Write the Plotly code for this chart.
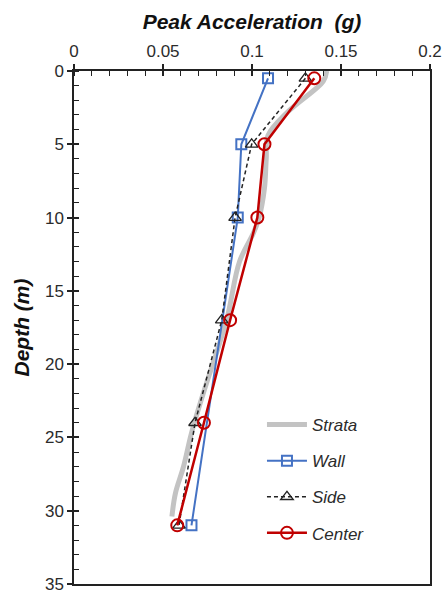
import plotly.graph_objects as go

# Data
strata_depth = [0, 0.7, 2.8, 4.4, 6, 8, 10, 11, 13, 17, 22, 24.7, 27, 28.8, 30.4]
strata_acc = [0.142, 0.140, 0.120, 0.109, 0.108, 0.107, 0.104, 0.101, 0.093, 0.0857, 0.0726, 0.066, 0.0615, 0.057, 0.055]

wall_depth = [0.5, 5, 10, 31]
wall_acc = [0.109, 0.094, 0.092, 0.066]

side_depth = [0.5, 5, 10, 17, 24, 31]
side_acc = [0.130, 0.0998, 0.0905, 0.083, 0.068, 0.059]

center_depth = [0.5, 5, 10, 17, 24, 31]
center_acc = [0.135, 0.107, 0.103, 0.0877, 0.073, 0.058]

x_ticks = [0, 0.05, 0.1, 0.15, 0.2]
x_labels = ["0", "0.05", "0.1", "0.15", "0.2"]
y_ticks = [0, 5, 10, 15, 20, 25, 30, 35]

FONT = "Liberation Sans, Arial, sans-serif"
TXT = "#2b2b2b"

fig = go.Figure()
fig.add_trace(go.Scatter(x=strata_acc, y=strata_depth, name="Strata", mode="lines",
                         line=dict(color="#c3c3c3", width=5, shape="spline"),
                         legendgroup="a"))
fig.add_trace(go.Scatter(x=wall_acc, y=wall_depth, name="Wall", mode="lines+markers",
                         line=dict(color="#4472c4", width=2),
                         marker=dict(symbol="square-open", size=10, color="#4472c4",
                                     line=dict(width=2, color="#4472c4")),
                         legendgroup="b"))
fig.add_trace(go.Scatter(x=side_acc, y=side_depth, name="Side", mode="lines+markers",
                         line=dict(color="#222222", width=1.5, dash="4px,3px"),
                         marker=dict(symbol="triangle-up-open", size=11, color="#222222",
                                     line=dict(width=1.3, color="#222222")),
                         legendgroup="c"))
fig.add_trace(go.Scatter(x=center_acc, y=center_depth, name="Center", mode="lines+markers",
                         line=dict(color="#c00000", width=2.5),
                         marker=dict(symbol="circle-open", size=12, color="#c00000",
                                     line=dict(width=2, color="#c00000")),
                         legendgroup="d"))
# invisible trace for overlay axes (crossing major ticks)
fig.add_trace(go.Scatter(x=[0], y=[0], xaxis="x2", yaxis="y2", mode="markers",
                         marker=dict(opacity=0), showlegend=False, hoverinfo="skip"))

fig.update_layout(
    width=442, height=595,
    margin=dict(l=74, r=12, t=71, b=11, autoexpand=False),
    paper_bgcolor="white", plot_bgcolor="white",
    font=dict(family=FONT, color=TXT),
    showlegend=True,
    legend=dict(x=0.528, y=0.345, xanchor="left", yanchor="top",
                bgcolor="rgba(255,255,255,0)", traceorder="grouped",
                tracegroupgap=11, itemwidth=40,
                font=dict(family=FONT, size=17, color=TXT, style="italic")),
    xaxis=dict(range=[0, 0.2], side="top", tickvals=x_ticks, ticktext=x_labels,
               automargin=False,
               showgrid=False, zeroline=False, showline=True, linecolor="#222", linewidth=1.5,
               mirror=True, ticks="outside", ticklen=5, tickwidth=1.5, tickcolor="#222",
               minor=dict(dtick=0.01, ticks="inside", ticklen=5, tickwidth=1.2, tickcolor="#222"),
               tickfont=dict(size=17, color=TXT),
               title=dict(text="<b><i>Peak Acceleration  (g)</i></b>", standoff=7,
                          font=dict(size=21, color="#111"))),
    yaxis=dict(range=[35, 0], tickvals=y_ticks, automargin=False,
               showgrid=False, zeroline=False, showline=True, linecolor="#222", linewidth=1.5,
               mirror=True, ticks="outside", ticklen=5, tickwidth=1.5, tickcolor="#222",
               minor=dict(dtick=1, ticks="inside", ticklen=5, tickwidth=1.2, tickcolor="#222"),
               tickfont=dict(size=17, color=TXT),
               title=dict(text="<b><i>Depth (m)</i></b>", standoff=10,
                          font=dict(size=21, color="#111"))),
    xaxis2=dict(range=[0, 0.2], overlaying="x", side="top", tickvals=x_ticks, automargin=False,
                showticklabels=False, showgrid=False, zeroline=False, showline=False,
                ticks="inside", ticklen=5, tickwidth=1.5, tickcolor="#222"),
    yaxis2=dict(range=[35, 0], overlaying="y", side="left", tickvals=y_ticks, automargin=False,
                showticklabels=False, showgrid=False, zeroline=False, showline=False,
                ticks="inside", ticklen=5, tickwidth=1.5, tickcolor="#222"),
)

fig.write_html("out.html")
